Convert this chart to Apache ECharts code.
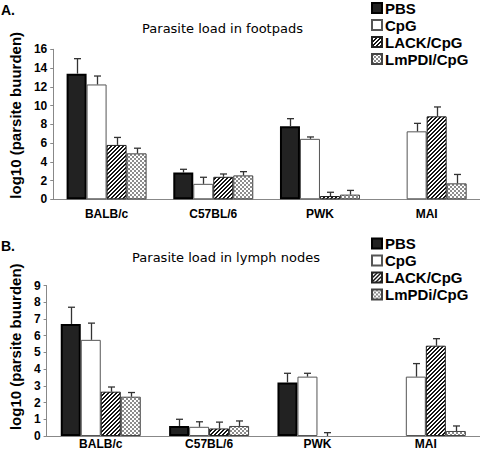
<!DOCTYPE html>
<html><head><meta charset="utf-8">
<script src="https://cdn.jsdelivr.net/npm/echarts@6/dist/echarts.min.js"></script>
<style>html,body{margin:0;padding:0;background:#fff}#c{width:480px;height:457px}</style>
</head><body><div id="c"></div>
<script>
// ---- data ----
const categories = ['BALB/c', 'C57BL/6', 'PWK', 'MAI'];
const footNames = ['PBS', 'CpG', 'LACK/CpG', 'LmPDI/CpG'];
const lymphNames = ['PBS', 'CpG', 'LACK/CpG', 'LmPDi/CpG'];

const footPBS   = [13.4, 2.85, 7.8, null];
const footCpG   = [12.25, 1.65, 6.45, 7.25];
const footLACK  = [5.8, 2.4, 0.35, 8.85];
const footLmPDI = [4.9, 2.55, 0.5, 1.7];
const footPBSErr   = [1.6, 0.35, 0.8, null];
const footCpGErr   = [0.9, 0.7, 0.2, 0.85];
const footLACKErr  = [0.8, 0.3, 0.4, 1.0];
const footLmPDIErr = [0.55, 0.4, 0.45, 0.95];

const lymphPBS   = [6.7, 0.6, 3.2, null];
const lymphCpG   = [5.75, 0.55, 3.55, 3.55];
const lymphLACK  = [2.65, 0.45, null, 5.4];
const lymphLmPDi = [2.35, 0.6, null, 0.3];
const lymphPBSErr   = [1.0, 0.4, 0.55, null];
const lymphCpGErr   = [1.0, 0.3, 0.2, 0.78];
const lymphLACKErr  = [0.28, 0.38, 0.2, 0.42];
const lymphLmPDiErr = [0.25, 0.3, null, 0.3];

// ---- patterns ----
function makeTile(size, fn) {
  const c = document.createElement('canvas');
  c.width = size; c.height = size;
  const ctx = c.getContext('2d');
  const img = ctx.createImageData(size, size);
  for (let y = 0; y < size; y++) for (let x = 0; x < size; x++) {
    const v = fn(x, y); const i = (y * size + x) * 4;
    img.data[i] = v; img.data[i + 1] = v; img.data[i + 2] = v; img.data[i + 3] = 255;
  }
  ctx.putImageData(img, 0, 0);
  return { image: c, repeat: 'repeat', imageWidth: size, imageHeight: size };
}
const stripes = makeTile(4, (x, y) => ((x + y) % 4) < 2 ? 20 : 255);
const checker = makeTile(4, (x, y) => ((Math.floor(x / 2) + Math.floor(y / 2)) % 2) === 0 ? 140 : 255);

const styles = [
  { color: '#222', borderColor: '#000', borderWidth: 2 },
  { color: '#fff', borderColor: '#555', borderWidth: 1 },
  { color: stripes, borderColor: '#222', borderWidth: 1 },
  { color: checker, borderColor: '#444', borderWidth: 1 }
];

const FONT = "'Liberation Sans', Arial, sans-serif";
const barW = 20;

function buildSeries(g, names, vals, errs) {
  const out = [];
  vals.forEach((arr, k) => {
    out.push({
      type: 'bar', name: names[k], xAxisIndex: g, yAxisIndex: g,
      data: arr.map(v => v === null ? '-' : v),
      barWidth: barW, barGap: '0%', itemStyle: styles[k], z: 2
    });
  });
  errs.forEach((arr, k) => {
    const data = [];
    arr.forEach((e, i) => { if (e !== null) data.push([i, vals[k][i] === null ? 0 : vals[k][i], e]); });
    out.push({
      type: 'custom', name: 'err' + g + k, xAxisIndex: g, yAxisIndex: g, z: 3,
      data: data,
      renderItem: function (params, api) {
        const ci = api.value(0), v = api.value(1), e = api.value(2);
        const b = api.coord([ci, v]);
        const t = api.coord([ci, v + e]);
        const x = Math.round(b[0] + (k - 1.5) * barW) + 0.5;
        const st = { stroke: '#333', lineWidth: 1.3 };
        return {
          type: 'group', children: [
            { type: 'line', shape: { x1: x, y1: b[1], x2: x, y2: t[1] }, style: st },
            { type: 'line', shape: { x1: x - 3.5, y1: t[1], x2: x + 3.5, y2: t[1] }, style: st }
          ]
        };
      }
    });
  });
  return out;
}

const axisLine = { show: true, lineStyle: { color: '#888', width: 1 } };
function xAx(g, margin) {
  return {
    type: 'category', gridIndex: g, data: categories,
    axisLine: axisLine, axisTick: { show: false },
    axisLabel: { color: '#000', fontFamily: FONT, fontWeight: 'bold', fontSize: 12, margin: margin }
  };
}
function yAx(g, max, interval, gap, pad) {
  return {
    type: 'value', gridIndex: g, min: 0, max: max, interval: interval,
    name: 'log10 (parsite buurden)', nameLocation: 'middle', nameGap: gap,
    nameTextStyle: { color: '#000', fontFamily: FONT, fontWeight: 'bold', fontSize: 15, padding: [0, 0, 0, pad] },
    axisLine: axisLine, axisTick: { show: true, inside: false, length: 3, lineStyle: { color: '#888' } },
    splitLine: { show: false },
    axisLabel: { color: '#000', fontFamily: FONT, fontWeight: 'bold', fontSize: 12, margin: 6 }
  };
}
function legend(top, names) {
  return {
    orient: 'vertical', left: 371, top: top, padding: 0, itemGap: 2,
    itemWidth: 10, itemHeight: 10, icon: 'rect', selectedMode: false,
    data: names,
    textStyle: { color: '#000', fontFamily: FONT, fontWeight: 'bold', fontSize: 15, padding: [0, 0, 0, -2] }
  };
}

const option = {
  animation: false,
  backgroundColor: '#fff',
  grid: [
    { left: 43, top: 49.3, height: 150, width: 442 },
    { left: 40.7, top: 285.5, height: 150.5, width: 448 }
  ],
  xAxis: [xAx(0, 9), xAx(1, 2)],
  yAxis: [yAx(0, 16, 2, 22, 18), yAx(1, 9, 1, 20, 28)],
  legend: [legend(0.5, footNames), legend(236, lymphNames)],
  graphic: [
    { type: 'text', x: 1, y: 3, style: { text: 'A.', fontFamily: FONT, fontWeight: 'bold', fontSize: 14, fill: '#000' } },
    { type: 'text', x: 222.5, y: 28, style: { text: 'Parasite load in footpads', fontFamily: 'DejaVu Sans', fontSize: 13, fill: '#000', align: 'center', verticalAlign: 'middle', textAlign: 'center', textVerticalAlign: 'middle' } },
    { type: 'text', x: 1, y: 239, style: { text: 'B.', fontFamily: FONT, fontWeight: 'bold', fontSize: 14, fill: '#000' } },
    { type: 'text', x: 226, y: 257, style: { text: 'Parasite load in lymph nodes', fontFamily: 'DejaVu Sans', fontSize: 13, fill: '#000', align: 'center', verticalAlign: 'middle', textAlign: 'center', textVerticalAlign: 'middle' } }
  ],
  series: [].concat(
    buildSeries(0, footNames, [footPBS, footCpG, footLACK, footLmPDI], [footPBSErr, footCpGErr, footLACKErr, footLmPDIErr]),
    buildSeries(1, lymphNames, [lymphPBS, lymphCpG, lymphLACK, lymphLmPDi], [lymphPBSErr, lymphCpGErr, lymphLACKErr, lymphLmPDiErr])
  )
};
const chart = echarts.init(document.getElementById('c'), null, { renderer: 'svg' });
chart.setOption(option);
</script>
</body></html>
